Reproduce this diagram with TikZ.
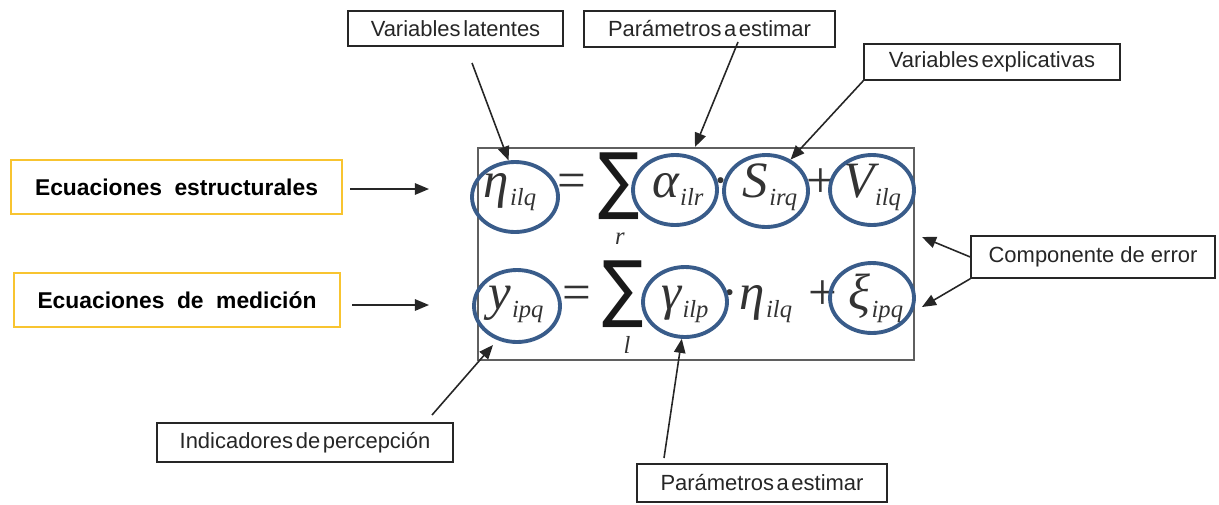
\documentclass[tikz,border=0pt]{standalone}
\usepackage{fontspec}
\usepackage{graphicx}
\setmainfont{Liberation Serif}
\newfontfamily\labfont{Liberation Sans}
\newfontfamily\eqfont{Liberation Serif}
\newfontfamily\sumfont{DejaVu Sans}
\usetikzlibrary{arrows.meta,shapes.geometric}
\definecolor{ybox}{RGB}{248,196,48}
\definecolor{cblue}{RGB}{57,92,138}
\definecolor{eqgray}{RGB}{95,95,95}
\newcommand{\msym}[2]{{\fontsize{29}{29}\selectfont\itshape #1}\kern0.5pt\raisebox{-5pt}{\fontsize{14}{14}\selectfont\itshape #2}}
\newcommand{\bigsum}{\resizebox{23.5pt}{30pt}{\sumfont ∑}}
\begin{document}
\begin{tikzpicture}[x=0.02cm,y=-0.02cm,
  lbl/.style={draw=black!85, line width=0.85pt, inner sep=0pt, text=black!85,
    font={\labfont\fontsize{12.5}{14}\selectfont}},
  tight/.style={font={\labfont\fontsize{12.5}{14}\selectfont\spaceskip=0.12em\relax}},
  ybx/.style={draw=ybox, line width=1.6pt, inner sep=0pt,
    font={\labfont\bfseries\fontsize{13}{15}\selectfont\spaceskip=0.55em\relax}},
  ring/.style={ellipse, draw=cblue, line width=2.2pt, inner sep=0pt},
  arr/.style={-{Triangle[length=8pt,width=6.5pt]}, line width=0.9pt, black!85},
  eqt/.style={inner sep=0pt, anchor=base, font=\eqfont, text=black!80}
]
\useasboundingbox (0,0) rectangle (1219,504);

% label boxes
\node[lbl, tight, minimum width=4.30cm, minimum height=0.70cm] (vl) at (455.5,28.5) {Variables latentes};
\node[lbl, tight, minimum width=5.02cm, minimum height=0.72cm] (pet) at (709.5,29) {Parámetros a estimar};
\node[lbl, tight, minimum width=5.12cm, minimum height=0.72cm] (ve) at (992,62) {Variables explicativas};
\node[lbl, minimum width=4.88cm, minimum height=0.84cm] (ce) at (1093,257) {Componente de error};
\node[lbl, tight, minimum width=5.92cm, minimum height=0.78cm] (ip) at (305,442.5) {Indicadores de percepción};
\node[lbl, tight, minimum width=5.00cm, minimum height=0.76cm] (peb) at (762,483) {Parámetros a estimar};

% yellow boxes
\node[ybx, minimum width=6.62cm, minimum height=1.08cm] (ee) at (176.5,187) {Ecuaciones estructurales};
\node[ybx, minimum width=6.52cm, minimum height=1.08cm] (em) at (177,300) {Ecuaciones de medición};

% equation box
\node[draw=eqgray, line width=1.1pt, minimum width=8.72cm, minimum height=4.24cm, inner sep=0pt] (eq) at (696,254) {};

% row 1
\node[eqt] (t1) at (510,197) {\msym{η}{ilq}};
\node[eqt] (t2) at (572,197) {\fontsize{29}{29}\selectfont =};
\node[inner sep=0pt, text=black!90] (s1) at (619,186) {\bigsum};
\node[eqt] (t3) at (620,244) {\fontsize{14}{14}\selectfont\itshape r};
\node[eqt] (t4) at (678,197) {\msym{α}{ilr}};
\node[eqt] (t5) at (721,197) {\fontsize{29}{29}\selectfont ·};
\node[eqt] (t6) at (770,197) {\msym{S}{irq}};
\node[eqt] (t7) at (821,197) {\fontsize{29}{29}\selectfont +};
\node[eqt] (t8) at (872,197) {\msym{V}{ilq}};

% row 2
\node[eqt] (u1) at (516,309) {\msym{y}{ipq}};
\node[eqt] (u2) at (577,309) {\fontsize{29}{29}\selectfont =};
\node[inner sep=0pt, text=black!90] (s2) at (623,294) {\bigsum};
\node[eqt] (u3) at (627,353) {\fontsize{14}{14}\selectfont\itshape l};
\node[eqt] (u4) at (685,309) {\msym{γ}{ilp}};
\node[eqt] (u5) at (730,309) {\fontsize{29}{29}\selectfont ·};
\node[eqt] (u6) at (766,309) {\msym{η}{ilq}};
\node[eqt] (u7) at (823,309) {\fontsize{29}{29}\selectfont +};
\node[eqt] (u8) at (876,309) {\msym{ξ}{ipq}};

% rings
\node[ring, minimum width=1.72cm, minimum height=1.40cm] (cEta) at (515,197) {};
\node[ring, minimum width=1.68cm, minimum height=1.40cm] (cAlpha) at (675,190) {};
\node[ring, minimum width=1.68cm, minimum height=1.44cm] (cS) at (766,191) {};
\node[ring, minimum width=1.68cm, minimum height=1.40cm] (cV) at (872,190) {};
\node[ring, minimum width=1.72cm, minimum height=1.44cm] (cY) at (517,306) {};
\node[ring, minimum width=1.68cm, minimum height=1.40cm] (cGamma) at (685,302) {};
\node[ring, minimum width=1.68cm, minimum height=1.40cm] (cXi) at (872,298) {};

% free ends
\coordinate (eeS) at (350,189);
\coordinate (eeE) at (429,189);
\coordinate (emS) at (352,305);
\coordinate (emE) at (429,305);
\coordinate (vlS) at (472,63);
\coordinate (petS) at (738,42);
\coordinate (petE) at (695,147);
\coordinate (ceE1) at (922,237);
\coordinate (ceE2) at (922,307);
\coordinate (ipS) at (432,415);
\coordinate (ipE) at (493,345);
\coordinate (pebS) at (664,458);

% connectors
\draw[arr] (eeS) -- (eeE);
\draw[arr] (emS) -- (emE);
\draw[arr] (vlS) -- (cEta.100);
\draw[arr] (petS) -- (petE);
\draw[arr] (ve.south west) -- (cS.52);
\draw[arr] (ce.west) -- (ceE1);
\draw[arr] (ce.south west) -- (ceE2);
\draw[arr] (ipS) -- (ipE);
\draw[arr] (pebS) -- (cGamma.265);
\end{tikzpicture}
\end{document}
